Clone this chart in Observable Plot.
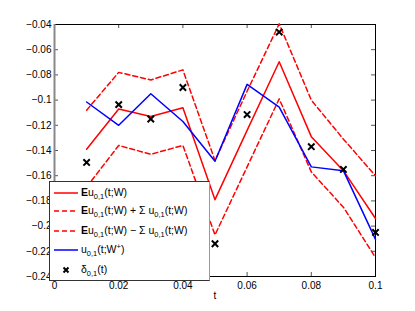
<!DOCTYPE html>
<html><head><meta charset="utf-8">
<script src="https://cdn.jsdelivr.net/npm/d3@7"></script>
<script src="https://cdn.jsdelivr.net/npm/@observablehq/plot@0.6"></script>
<style>
body{margin:0;background:#fff;font-family:"Liberation Sans",Arial,sans-serif;}
#wrap{position:relative;width:415px;height:311px;}
#legend{position:absolute;left:49px;top:181px;width:161px;height:100px;background:#fff;border:1px solid #333;border-right-color:#999;box-sizing:border-box;}
.row{position:absolute;left:0;height:18px;width:158px;font-size:10.5px;color:#000;}
.row svg{position:absolute;left:3px;top:0;}
.row span.lab{position:absolute;left:31px;top:2px;line-height:14px;white-space:nowrap;display:block;}
sub,sup{font-size:7.5px;line-height:0;}
sub{vertical-align:-3px;}
sup{vertical-align:4px;}
</style>
</head><body>
<div id="wrap"></div>
<script>
const T      = [0.01, 0.02, 0.03, 0.04, 0.05, 0.06, 0.07, 0.08, 0.09, 0.1];
const meanU  = [-0.139, -0.107, -0.113, -0.106, -0.179, -0.124, -0.0696, -0.129, -0.156, -0.194];
const upperU = [-0.108, -0.078, -0.084, -0.076, -0.148, -0.093, -0.0395, -0.100, -0.131, -0.160];
const lowerU = [-0.169, -0.136, -0.143, -0.136, -0.207, -0.153, -0.099, -0.157, -0.185, -0.225];
const blueU  = [-0.1015, -0.120, -0.095, -0.117, -0.1485, -0.0875, -0.1055, -0.153, -0.156, -0.2105];
const delta  = [-0.1495, -0.1036, -0.115, -0.090, -0.214, -0.1115, -0.046, -0.137, -0.155, -0.205];
const xTicks = [0, 0.02, 0.04, 0.06, 0.08, 0.1];
const yTicks = [-0.04, -0.06, -0.08, -0.1, -0.12, -0.14, -0.16, -0.18, -0.2, -0.22, -0.24];
const legendLabels = [
  "<b>E</b>u<sub>0,1</sub>(t;W)",
  "<b>E</b>u<sub>0,1</sub>(t;W) + &Sigma; u<sub>0,1</sub>(t;W)",
  "<b>E</b>u<sub>0,1</sub>(t;W) &minus; &Sigma; u<sub>0,1</sub>(t;W)",
  "u<sub>0,1</sub>(t;W<sup>+</sup>)",
  "&delta;<sub>0,1</sub>(t)"
];

const rows = T.map((t, i) => ({t, mean: meanU[i], up: upperU[i], lo: lowerU[i], blue: blueU[i], delta: delta[i]}));
const fmt = d3.format("~g");
const W = 415, H = 311, ML = 54, MR = 40, MT = 24, MB = 35;
const pw = W - ML - MR, ph = H - MT - MB;

const chart = Plot.plot({
  width: W, height: H, marginLeft: ML, marginRight: MR, marginTop: MT, marginBottom: MB,
  style: {fontFamily: "Liberation Sans, Arial, sans-serif", fontSize: "10px", background: "#fff", overflow: "visible"},
  x: {domain: [0, 0.1]},
  y: {domain: [-0.24, -0.04]},
  marks: [
    Plot.axisX(xTicks, {tickSize: 0, tickPadding: 5, tickFormat: fmt, label: null, fontSize: 10}),
    Plot.axisY(yTicks, {tickSize: 0, tickPadding: 3, tickFormat: fmt, label: null, fontSize: 10}),
    Plot.tickX(xTicks, {x: d => d, insetTop: ph - 4, stroke: "#555"}),
    Plot.tickX(xTicks, {x: d => d, insetBottom: ph - 4, stroke: "#555"}),
    Plot.tickY(yTicks, {y: d => d, insetRight: pw - 4, stroke: "#555"}),
    Plot.tickY(yTicks, {y: d => d, insetLeft: pw - 4, stroke: "#555"}),
    Plot.frame({stroke: "#000"}),
    Plot.ruleX([0], {stroke: "#888", strokeWidth: 2}),
    Plot.lineY(rows, {x: "t", y: "mean", stroke: "#ff0000", strokeWidth: 1.5}),
    Plot.lineY(rows, {x: "t", y: "up", stroke: "#ff0000", strokeWidth: 1.5, strokeDasharray: "5,3"}),
    Plot.lineY(rows, {x: "t", y: "lo", stroke: "#ff0000", strokeWidth: 1.5, strokeDasharray: "5,3"}),
    Plot.lineY(rows, {x: "t", y: "blue", stroke: "#0000ff", strokeWidth: 1.5}),
    Plot.dot(rows, {x: "t", y: "delta", symbol: "times", r: 3, stroke: "#000", strokeWidth: 2}),
    Plot.text(["t"], {text: d => d, frameAnchor: "bottom", dy: 22, fontSize: 10})
  ]
});
const wrap = document.getElementById("wrap");
wrap.appendChild(chart);

// Legend
const leg = document.createElement("div");
leg.id = "legend";
const styles = [
  {stroke: "#ff0000", dash: null},
  {stroke: "#ff0000", dash: "5,3"},
  {stroke: "#ff0000", dash: "5,3"},
  {stroke: "#0000ff", dash: null},
  {marker: true}
];
const rowTops = [1, 19, 39, 58, 78];
legendLabels.forEach((lab, i) => {
  const r = document.createElement("div");
  r.className = "row";
  r.style.top = rowTops[i] + "px";
  const s = styles[i];
  let svg;
  if (s.marker) {
    svg = `<svg width="26" height="18"><path d="M10.5,7.5L15.5,12.5M15.5,7.5L10.5,12.5" stroke="#000" stroke-width="2"/></svg>`;
  } else {
    svg = `<svg width="26" height="18"><line x1="1" x2="25" y1="10" y2="10" stroke="${s.stroke}" stroke-width="1.5" ${s.dash ? `stroke-dasharray="${s.dash}"` : ""}/></svg>`;
  }
  r.innerHTML = svg + `<span class="lab">${lab}</span>`;
  leg.appendChild(r);
});
wrap.appendChild(leg);
</script>
</body></html>
